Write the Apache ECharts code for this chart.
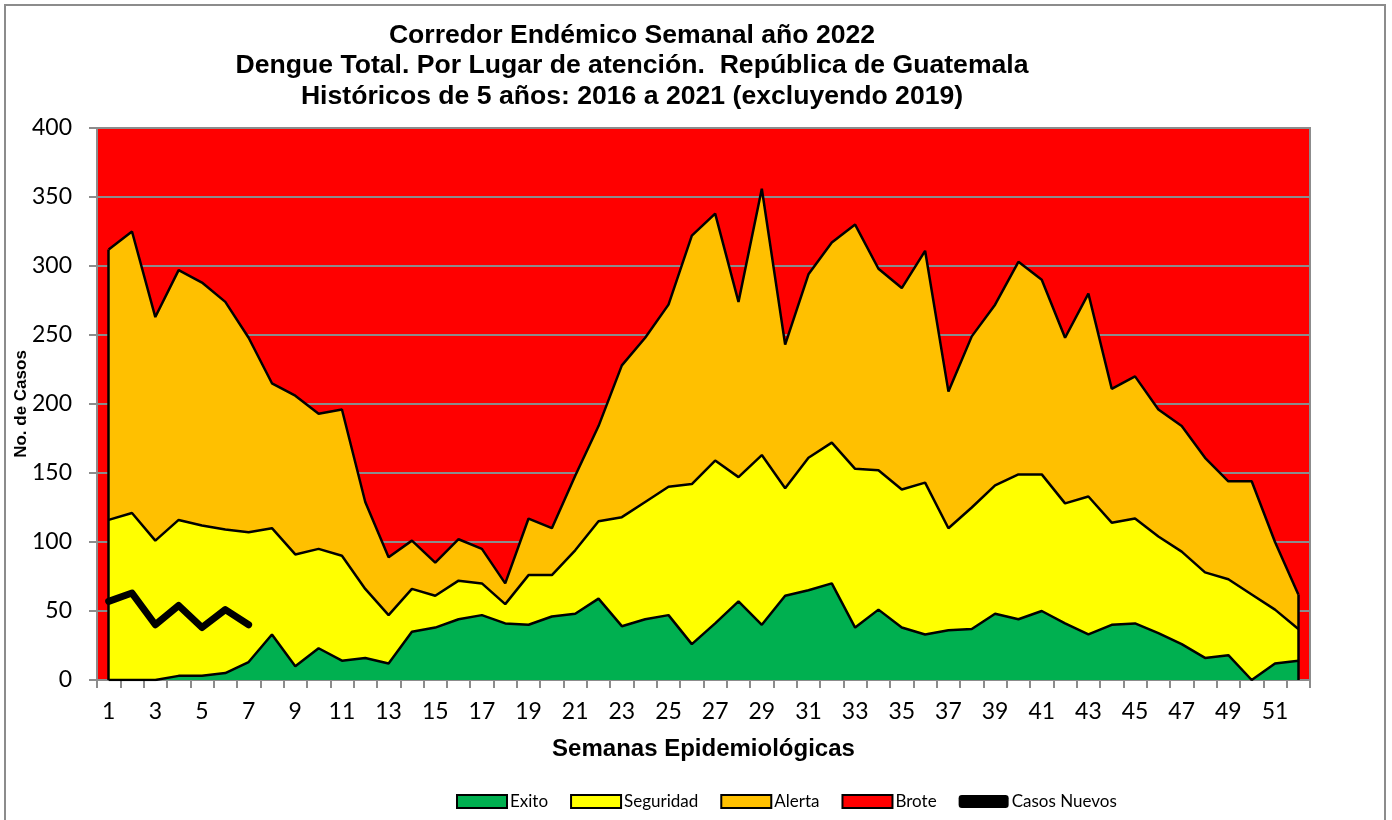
<!DOCTYPE html>
<html>
<head>
<meta charset="utf-8">
<script src="https://cdn.jsdelivr.net/npm/echarts@6/dist/echarts.min.js"></script>
<style>
  html, body { margin: 0; padding: 0; background: #fff; }
  #chart { width: 1392px; height: 820px; }
</style>
</head>
<body>
<div id="chart"></div>
<script>
// semanas epidemiologicas 1..52
const semanas = ['1','2','3','4','5','6','7','8','9','10','11','12','13','14','15','16','17','18','19','20',
  '21','22','23','24','25','26','27','28','29','30','31','32','33','34','35','36','37','38','39','40',
  '41','42','43','44','45','46','47','48','49','50','51','52'];

// limites superiores de cada zona
const exito = [0, 0, 0, 3, 3, 5, 13, 33, 10, 23, 14, 16, 12, 35, 38, 44, 47, 41, 40, 46,
  48, 59, 39, 44, 47, 26, 41, 57, 40, 61, 65, 70, 38, 51, 38, 33, 36, 37, 48, 44,
  50, 41, 33, 40, 41, 34, 26, 16, 18, 0, 12, 14];
const seguridad = [116, 121, 101, 116, 112, 109, 107, 110, 91, 95, 90, 66, 47, 66, 61, 72, 70, 55, 76, 76,
  94, 115, 118, 129, 140, 142, 159, 147, 163, 139, 161, 172, 153, 152, 138, 143, 110, 125, 141, 149,
  149, 128, 133, 114, 117, 104, 93, 78, 73, 62, 51, 37];
const alerta = [312, 325, 263, 297, 288, 274, 248, 215, 206, 193, 196, 129, 89, 101, 85, 102, 95, 70, 117, 110,
  148, 184, 228, 248, 272, 322, 338, 274, 356, 243, 294, 317, 330, 298, 284, 311, 209, 249, 272, 303,
  290, 248, 280, 211, 220, 196, 184, 161, 144, 144, 100, 62];
const casosNuevos = [57, 63, 40, 54, 38, 51, 40];

const yTicks = { min: 0, max: 400, interval: 50 };

const chart = echarts.init(document.getElementById('chart'));

const areaLine = { color: '#000', width: 2.5 };
const tickFont = { fontFamily: 'Lato', fontSize: 23, color: '#000' };

chart.setOption({
  animation: false,
  backgroundColor: '#fff',
  graphic: [
    {
      type: 'rect',
      shape: { x: 5, y: 5, width: 1380, height: 830 },
      style: { fill: 'none', stroke: '#8c8c8c', lineWidth: 2 },
      silent: true
    },
    {
      type: 'text',
      x: 632,
      y: 20,
      style: {
        text: 'Corredor Endémico Semanal año 2022\nDengue Total. Por Lugar de atención.  República de Guatemala\nHistóricos de 5 años: 2016 a 2021 (excluyendo 2019)',
        textAlign: 'center',
        font: 'bold 26.6px "Liberation Sans", Arial',
        lineHeight: 30.5,
        fill: '#000'
      },
      silent: true
    },
    {
      // nombre del eje Y
      type: 'text',
      x: 21,
      y: 404,
      rotation: Math.PI / 2,
      style: {
        text: 'No. de Casos',
        textAlign: 'center',
        textVerticalAlign: 'middle',
        font: 'bold 17px "Liberation Sans", Arial',
        fill: '#000'
      },
      silent: true
    }
  ],
  legend: {
    left: 451,
    top: 788,
    itemWidth: 50,
    itemHeight: 13,
    itemGap: 22,
    textStyle: { fontFamily: 'Lato', fontSize: 17, color: '#000', padding: [0, 0, 0, -2] },
    data: [
      { name: 'Exito', icon: 'rect', itemStyle: { borderColor: '#000', borderWidth: 2 } },
      { name: 'Seguridad', icon: 'rect', itemStyle: { borderColor: '#000', borderWidth: 2 } },
      { name: 'Alerta', icon: 'rect', itemStyle: { borderColor: '#000', borderWidth: 2 } },
      { name: 'Brote', icon: 'rect', itemStyle: { borderColor: '#000', borderWidth: 2 } },
      { name: 'Casos Nuevos', icon: 'roundRect', itemStyle: { color: '#000' } }
    ]
  },
  grid: {
    left: 97,
    right: 82,
    top: 128,
    bottom: 140,
    outerBoundsMode: 'none',
    containLabel: false,
    show: true,
    backgroundColor: '#ff0000',
    borderColor: '#8c8c8c',
    borderWidth: 2
  },
  xAxis: {
    type: 'category',
    data: semanas,
    boundaryGap: true,
    name: 'Semanas Epidemiológicas',
    nameLocation: 'middle',
    nameGap: 57,
    nameTextStyle: { fontFamily: '"Liberation Sans", Arial', fontWeight: 'bold', fontSize: 24, color: '#000' },
    axisLine: { lineStyle: { color: '#8c8c8c', width: 2 } },
    axisTick: { show: true, interval: 0, length: 8, lineStyle: { color: '#8c8c8c', width: 2 } },
    axisLabel: Object.assign({ interval: 1, margin: 20 }, tickFont),
    splitLine: { show: false }
  },
  yAxis: {
    type: 'value',
    min: yTicks.min,
    max: yTicks.max,
    interval: yTicks.interval,
    axisLine: { show: true, lineStyle: { color: '#8c8c8c', width: 2 } },
    axisTick: { show: true, length: 8, lineStyle: { color: '#8c8c8c', width: 2 } },
    axisLabel: Object.assign({ margin: 25 }, tickFont),
    splitLine: { show: true, lineStyle: { color: '#8c8c8c', width: 2 } }
  },
  series: [
    {
      name: 'Brote',
      type: 'line',
      data: [],
      itemStyle: { color: '#ff0000' },
      areaStyle: { color: '#ff0000' }
    },
    {
      name: 'Alerta',
      type: 'line',
      data: alerta,
      symbol: 'none',
      itemStyle: { color: '#ffc000' },
      lineStyle: areaLine,
      areaStyle: { color: '#ffc000', opacity: 1 }
    },
    {
      name: 'Seguridad',
      type: 'line',
      data: seguridad,
      symbol: 'none',
      itemStyle: { color: '#ffff00' },
      lineStyle: areaLine,
      areaStyle: { color: '#ffff00', opacity: 1 }
    },
    {
      name: 'Exito',
      type: 'line',
      data: exito,
      symbol: 'none',
      itemStyle: { color: '#00b050' },
      lineStyle: areaLine,
      areaStyle: { color: '#00b050', opacity: 1 },
      // bordes verticales del area en la primera y ultima semana
      markLine: {
        silent: true,
        symbol: 'none',
        label: { show: false },
        lineStyle: { color: '#000', width: 2.5, type: 'solid' },
        data: [
          [{ coord: [semanas[0], 0] }, { coord: [semanas[0], alerta[0]] }],
          [{ coord: [semanas[51], 0] }, { coord: [semanas[51], alerta[51]] }]
        ]
      }
    },
    {
      name: 'Casos Nuevos',
      type: 'line',
      data: casosNuevos,
      symbol: 'none',
      itemStyle: { color: '#000' },
      lineStyle: { color: '#000', width: 7, cap: 'round', join: 'round' }
    }
  ]
});
</script>
</body>
</html>
